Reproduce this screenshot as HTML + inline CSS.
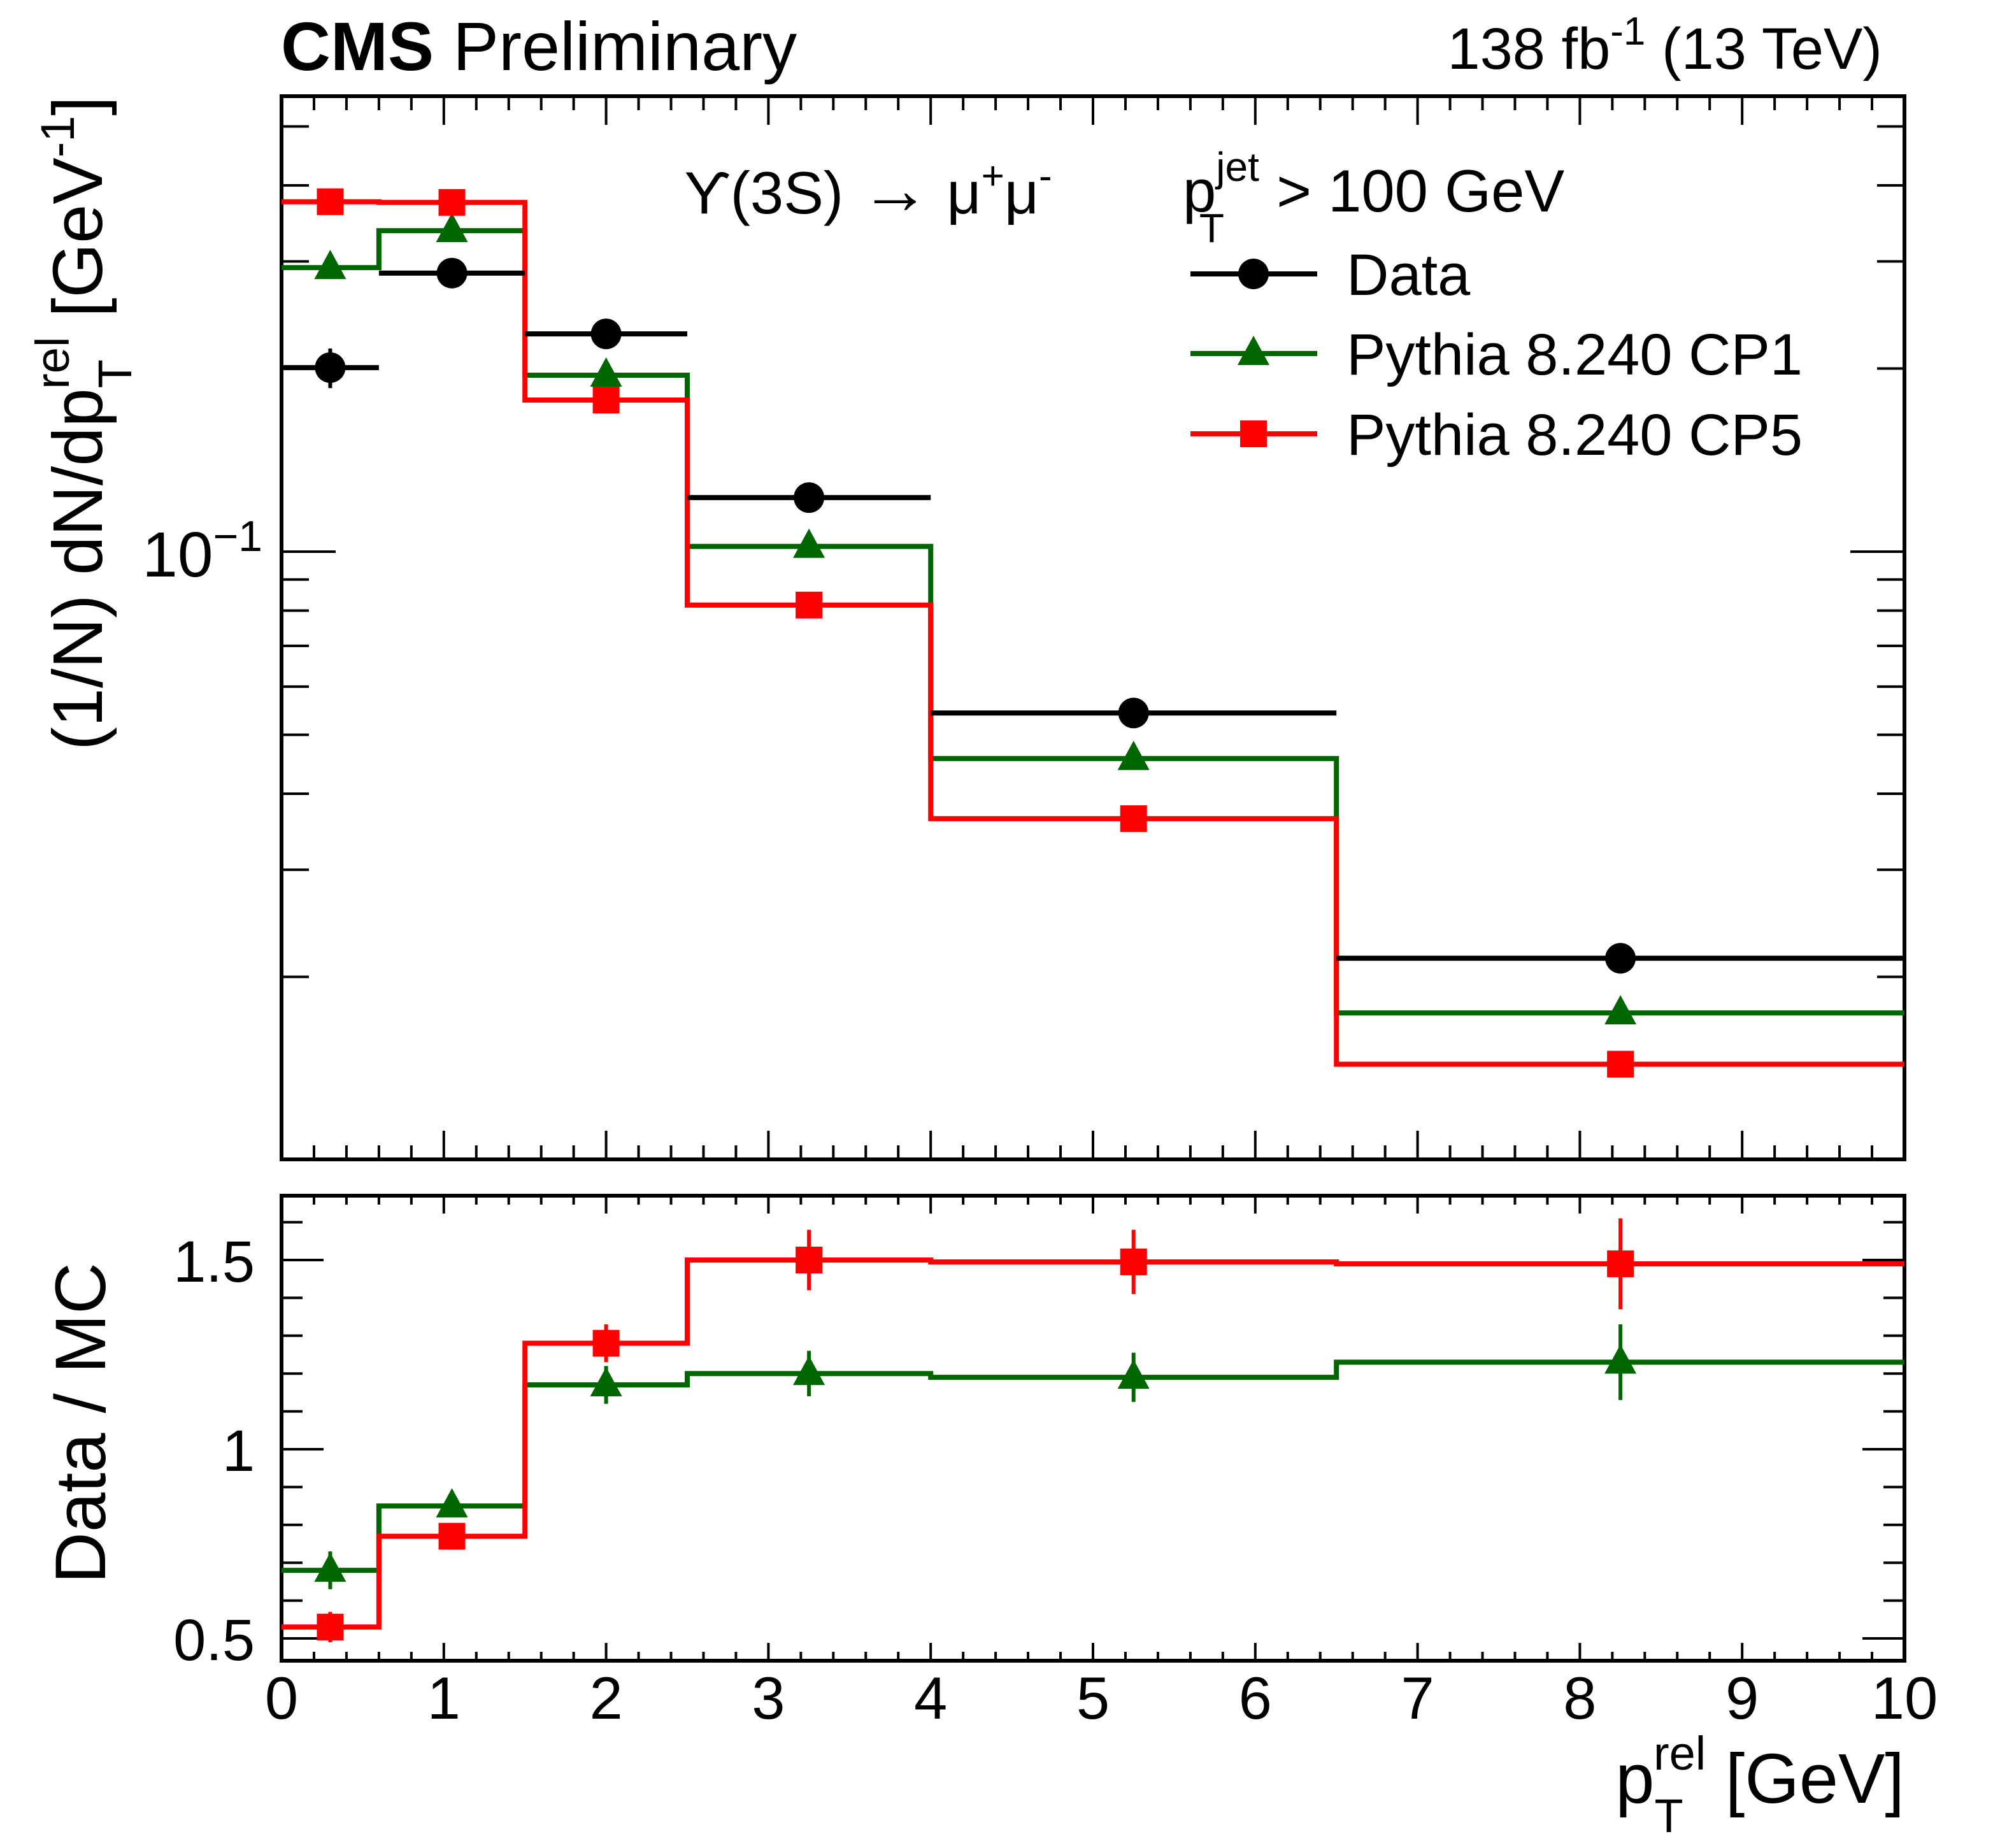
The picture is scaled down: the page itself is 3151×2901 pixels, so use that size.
<!DOCTYPE html>
<html><head><meta charset="utf-8"><style>
html,body{margin:0;padding:0;background:#fff}
svg{display:block;font-family:"Liberation Sans",sans-serif}
</style></head><body>
<svg id="chart" width="3151" height="2901" viewBox="0 0 3151 2901" xmlns="http://www.w3.org/2000/svg">
<g id="frames"></g>
<g id="marks"></g>
<g id="labels">
<text x="441" y="110" font-size="108" font-weight="bold">CMS <tspan font-weight="normal">Preliminary</tspan></text>
<text x="2955" y="108" font-size="92" text-anchor="end">138 fb<tspan dy="-38" font-size="62">-1</tspan><tspan dy="38"> (13 TeV)</tspan></text>
<text x="1074" y="335" font-size="94">ϒ(3S) <tspan font-size="110">→</tspan> μ<tspan dy="-38" font-size="62">+</tspan><tspan dy="38">μ</tspan><tspan dy="-38" font-size="62">-</tspan></text>
<text x="1857" y="332" font-size="94">p<tspan dy="-48" font-size="64">jet</tspan><tspan dx="-94" dy="96" font-size="64">T</tspan><tspan dx="56" dy="-48"> &gt; 100 GeV</tspan></text>
<text transform="translate(160,151) rotate(-90)" font-size="110" text-anchor="end">(1/N) dN/dp<tspan dy="46" font-size="74">T</tspan><tspan dx="-44" dy="-98" font-size="74">rel</tspan><tspan dy="52"> [GeV</tspan><tspan dy="-44" font-size="74">-1</tspan><tspan dy="44">]</tspan></text>
<text transform="translate(165,2234) rotate(-90)" font-size="112" text-anchor="middle">Data / MC</text>
<text x="2990" y="2830" font-size="110" text-anchor="end">p<tspan dy="46" font-size="74">T</tspan><tspan dx="-44" dy="-98" font-size="74">rel</tspan><tspan dy="52"> [GeV]</tspan></text>
</g>
</svg>
<script>
const binEdges=[0,0.6,1.5,2.5,4,6.5,10];
const binCenters=[0.3,1.05,2.0,3.25,5.25,8.25];
const dataVals=[0.2007,0.287,0.228,0.1227,0.0543,0.02146];
const dataErr=[0.015,0.005,0.005,0.003,0.0015,0.0012];
const cp1Vals=[0.293,0.337,0.195,0.102,0.0457,0.01745];
const cp5Vals=[0.376,0.375,0.1775,0.0817,0.0364,0.01437];
const ratioCP1=[0.68,0.85,1.17,1.20,1.19,1.23];
const ratioCP1Err=[0.05,0.03,0.05,0.06,0.065,0.1];
const ratioCP5=[0.53,0.77,1.28,1.50,1.495,1.49];
const ratioCP5Err=[0.04,0.03,0.05,0.08,0.085,0.12];
const xTicks=[0,1,2,3,4,5,6,7,8,9,10];
const ratioTicks=[0.5,1,1.5];
const ratioTickLabels=["0.5","1","1.5"];

const NS="http://www.w3.org/2000/svg";
const L=442,R=2990,T1=151,B1=1820,T2=1877,B2=2607;
const X=v=>L+(R-L)*v/10;
const Y=v=>866-955*Math.log10(v/0.1);
const YR=r=>2275-(r-1)*594;
const frames=document.getElementById('frames'),marks=document.getElementById('marks');
function mk(tag,attrs,parent){const e=document.createElementNS(NS,tag);for(const k in attrs)e.setAttribute(k,attrs[k]);parent.appendChild(e);return e;}
function line(x1,y1,x2,y2,c,w,p,name){const e=mk('line',{x1,y1,x2,y2,stroke:c,'stroke-width':w},p);

return e;}

[[T1,B1,'main-frame'],[T2,B2,'ratio-frame']].forEach(([t,b,n])=>{
 const r=mk('rect',{x:L,y:t,width:R-L,height:b-t,fill:'none',stroke:'#000','stroke-width':6},frames);
 
 
});
for(let i=0;i<=50;i++){const v=i*0.2,x=X(v),maj=i%5===0;
 line(x,B1,x,B1-(maj?45:22),'#000',4,frames,'x-tick');
 line(x,T1,x,T1+(maj?45:22),'#000',4,frames,'x-tick');
 line(x,B2,x,B2-(maj?28:14),'#000',4,frames,'ratio-x-tick');
 line(x,T2,x,T2+(maj?28:14),'#000',4,frames,'ratio-x-tick');
}
xTicks.forEach(v=>{const t=mk('text',{x:X(v),y:2698,'font-size':94,'text-anchor':'middle'},frames);t.textContent=v;
 
 });
const logTicks=[0.02,0.03,0.04,0.05,0.06,0.07,0.08,0.09,0.1,0.2,0.3,0.4,0.5];
logTicks.forEach(v=>{const y=Y(v),maj=v===0.1,len=maj?85:43;
 line(L,y,L+len,y,'#000',4,frames,'y-tick');line(R,y,R-len,y,'#000',4,frames,'y-tick');});
{const t=mk('text',{x:412,y:905,'font-size':100,'text-anchor':'end'},frames);
 
 
 t.innerHTML='10<tspan dy="-40" font-size="68">−1</tspan>';}
for(let i=5;i<=16;i++){const r=i/10,y=YR(r),maj=i%5===0,len=maj?66:33;
 line(L,y,L+len,y,'#000',4,frames,'ratio-y-tick');line(R,y,R-len,y,'#000',4,frames,'ratio-y-tick');}
ratioTicks.forEach((r,i)=>{const t=mk('text',{x:400,y:YR(r)+34,'font-size':92,'text-anchor':'end'},frames);t.textContent=ratioTickLabels[i];
 
 });

function stepPath(vals,fy){let d='';vals.forEach((v,i)=>{const y=fy(v);d+=(i===0?'M':'L')+X(binEdges[i])+','+y+'L'+X(binEdges[i+1])+','+y;});return d;}
function marker(type,cx,cy,color,name){let e;
 if(type==='circle')e=mk('circle',{cx,cy,r:24,fill:color},marks);
 else if(type==='square')e=mk('rect',{x:cx-21,y:cy-21,width:42,height:42,fill:color},marks);
 else e=mk('polygon',{points:`${cx},${cy-28} ${cx-25},${cy+18} ${cx+25},${cy+18}`,fill:color},marks);
 
 }

const green='#006600',red='#ff0000';
[[cp1Vals,green,'cp1-histogram'],[cp5Vals,red,'cp5-histogram']].forEach(([v,c,n])=>{
 const p=mk('path',{d:stepPath(v,Y),fill:'none',stroke:c,'stroke-width':8},marks);
 
 });
cp1Vals.forEach((v,i)=>marker('tri',X(binCenters[i]),Y(v),green,'cp1-point'));
cp5Vals.forEach((v,i)=>marker('square',X(binCenters[i]),Y(v),red,'cp5-point'));
dataVals.forEach((v,i)=>{
 line(X(binEdges[i]),Y(v),X(binEdges[i+1]),Y(v),'#000',8,marks,'data-xerr');
 line(X(binCenters[i]),Y(v+dataErr[i]),X(binCenters[i]),Y(v-dataErr[i]),'#000',6,marks,'data-yerr');
 marker('circle',X(binCenters[i]),Y(v),'#000','data-point');});
[[ratioCP1,ratioCP1Err,green,'tri','ratio-cp1'],[ratioCP5,ratioCP5Err,red,'square','ratio-cp5']].forEach(([v,er,c,m,n])=>{
 const p=mk('path',{d:stepPath(v,YR),fill:'none',stroke:c,'stroke-width':8},marks);
 
 
 v.forEach((r,i)=>{line(X(binCenters[i]),YR(r+er[i]),X(binCenters[i]),YR(r-er[i]),c,6,marks,n+'-err');
  marker(m,X(binCenters[i]),YR(r),c,n+'-point');});
});
const legend=mk('g',{},marks);


[['Data','#000','circle',430,'legend-data'],['Pythia 8.240 CP1',green,'tri',555,'legend-cp1'],['Pythia 8.240 CP5',red,'square',681,'legend-cp5']].forEach(([lab,c,m,y,n])=>{
 line(1869,y,2068,y,c,8,legend,n+'-line');
 let e;
 if(m==='circle')e=mk('circle',{cx:1968,cy:y,r:24,fill:c},legend);
 else if(m==='square')e=mk('rect',{x:1947,y:y-21,width:42,height:42,fill:c},legend);
 else e=mk('polygon',{points:`1968,${y-28} 1943,${y+18} 1993,${y+18}`,fill:c},legend);
 
 
 const t=mk('text',{x:2114,y:y+33,'font-size':92},legend);t.textContent=lab;
 
 
});
</script>
</body></html>
